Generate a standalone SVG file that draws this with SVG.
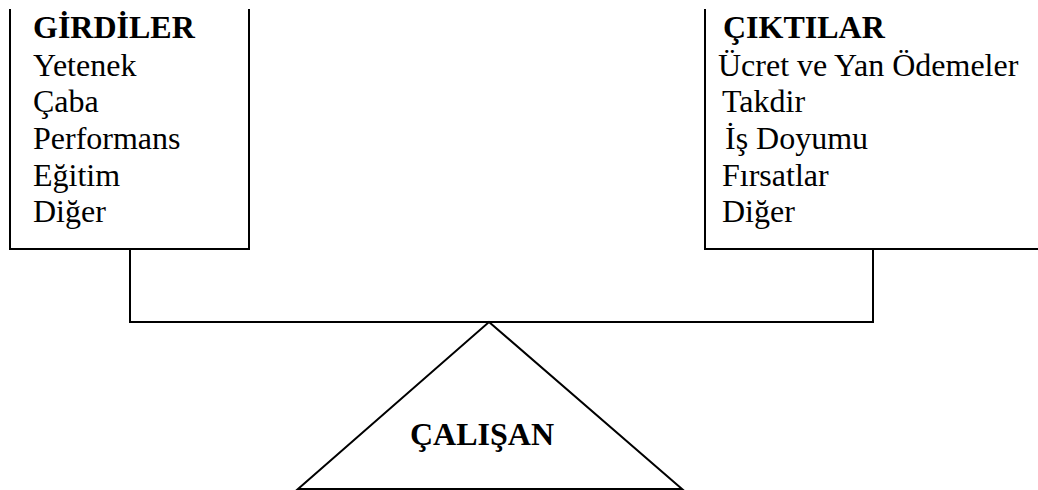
<svg xmlns="http://www.w3.org/2000/svg" width="1038" height="490" viewBox="0 0 1038 490">
<style>
.ln{fill:none;stroke:#000;stroke-width:2}
.t{font-family:'Liberation Serif','Times New Roman',Times,'DejaVu Serif',serif;font-size:32px;fill:#000}
.b{font-weight:bold}
</style>
<rect width="1038" height="490" fill="#fff"/>
<g id="girdiler">
<polyline class="ln" points="10,9 10,249 249,249 249,9"/>
<g class="t" font-family="Liberation Serif, serif">
<text class="b" x="33" y="38">GİRDİLER</text>
<text x="33" y="76">Yetenek</text>
<text x="33" y="112">Çaba</text>
<text x="33" y="149">Performans</text>
<text x="33" y="186">Eğitim</text>
<text x="33" y="222">Diğer</text>
</g>
</g>
<g id="ciktilar">
<polyline class="ln" points="705,9 705,249 1040,249"/>
<g class="t" font-family="Liberation Serif, serif">
<text class="b" x="723" y="38">ÇIKTILAR</text>
<text x="718" y="76">Ücret ve Yan Ödemeler</text>
<text x="722" y="112">Takdir</text>
<text x="725" y="149">İş Doyumu</text>
<text x="722" y="186">Fırsatlar</text>
<text x="722" y="222">Diğer</text>
</g>
</g>
<g id="connectors">
<polyline class="ln" points="130,249 130,322 873,322 873,249"/>
</g>
<g id="calisan">
<polygon class="ln" points="489,322 682,489 298,489"/>
<text class="t b" font-family="Liberation Serif, serif" x="410" y="445">ÇALIŞAN</text>
</g>
</svg>
